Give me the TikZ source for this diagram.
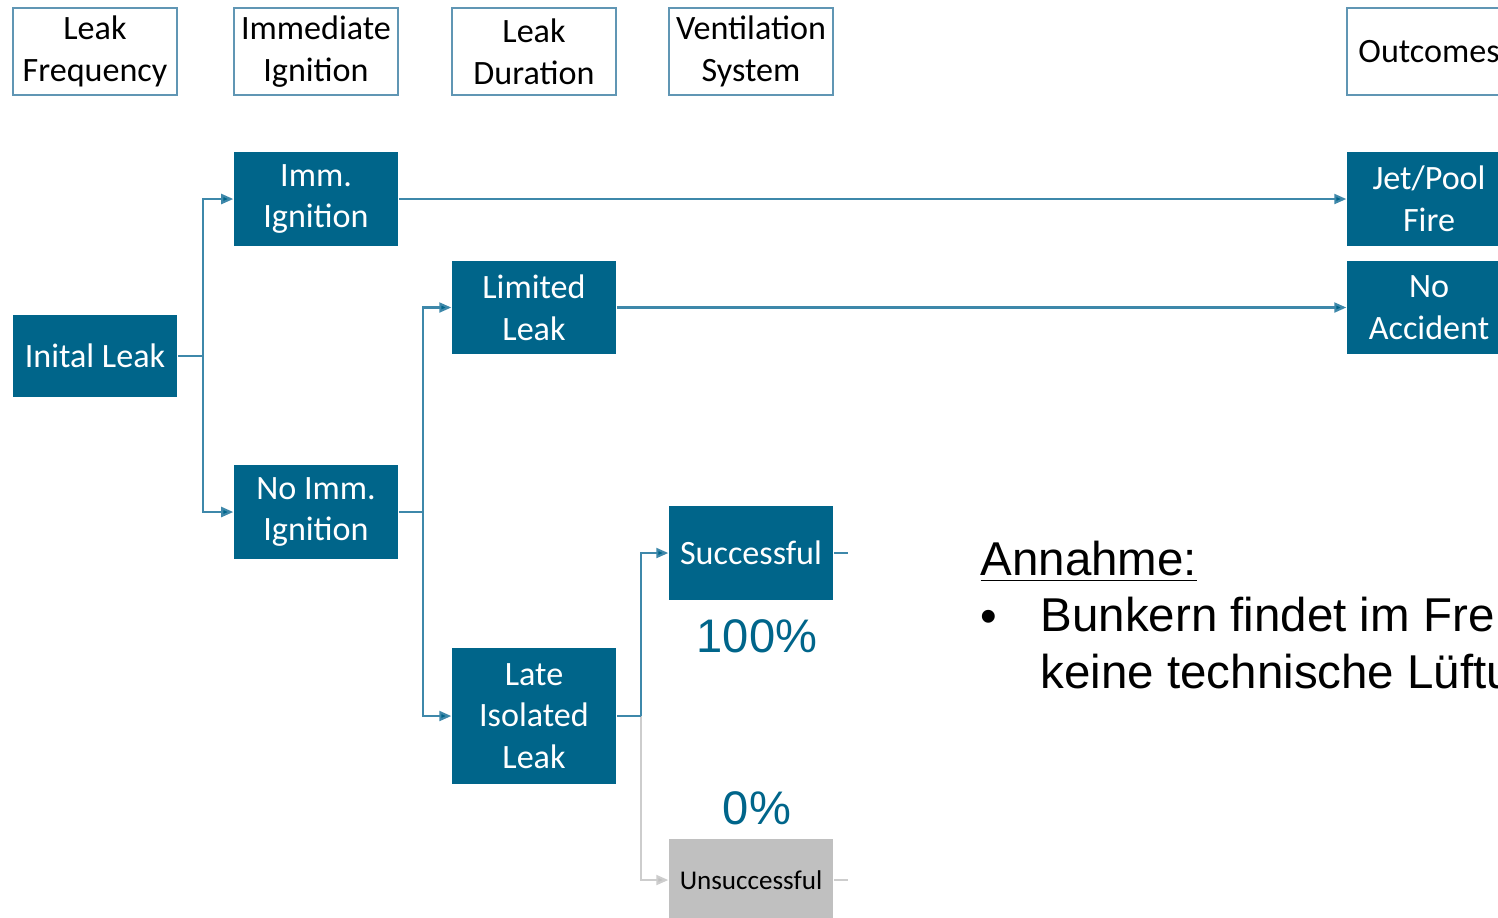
\documentclass[tikz,border=0pt]{standalone}
\usepackage{fontspec}
\setmainfont{Carlito}
\newfontfamily\arialfont{Liberation Sans}
\usetikzlibrary{arrows.meta}
\definecolor{petrol}{RGB}{0,101,138}
\definecolor{linkblue}{RGB}{62,136,170}
\definecolor{headline}{RGB}{96,150,180}
\definecolor{greybox}{RGB}{192,192,192}
\definecolor{greyline}{RGB}{205,205,205}
\begin{document}
\begin{tikzpicture}[x=0.01cm, y=-0.01cm,
    boxtext/.style={font=\fontsize{9.7}{11.9}\selectfont, align=center, inner sep=0pt},
    head/.style={boxtext, draw=headline, line width=0.5pt, minimum width=1.64cm, minimum height=0.87cm},
    event/.style={boxtext, fill=petrol, text=white, minimum width=1.64cm, minimum height=0.93cm},
    link/.style={draw=linkblue, line width=0.6pt},
    arr/.style={link, -{Triangle[length=1.2mm, width=1mm, fill=petrol]}},
    glink/.style={draw=greyline, line width=0.6pt},
    garr/.style={glink, -{Triangle[length=1.2mm, width=1mm, fill=greybox]}},
    pct/.style={font=\arialfont\fontsize{13.4}{16}\selectfont, text=petrol, inner sep=0pt}]
    \useasboundingbox (0,0) rectangle (1498,917);
    \clip (0,0) rectangle (1498,917);
    % Kopfzeile
    \node[head] (hfreq) at (95,51.5) {Leak\\Frequency};
    \node[head] (hign) at (316,51.5) {Immediate\\Ignition};
    \node[head] (hdur) at (534,51.5) {Leak\\Duration};
    \node[head] (hvent) at (751,51.5) {Ventilation\\System};
    \node[head] (hout) at (1429,51.5) {Outcomes};
    % Ereignisse
    \node[event, minimum height=0.82cm] (init) at (95,356) {Inital Leak};
    \node[event] (imm) at (316,199) {Imm.\\Ignition};
    \node[event] (noimm) at (316,512) {No Imm.\\Ignition};
    \node[event] (lim) at (534,307.5) {Limited\\Leak};
    \node[event, minimum height=1.36cm] (late) at (534,716) {Late\\Isolated\\Leak};
    \node[event] (succ) at (751,553) {Successful};
    \node[boxtext, font=\fontsize{7.7}{9.4}\selectfont, fill=greybox, minimum width=1.64cm, minimum height=0.82cm] (unsucc) at (751,880) {Unsuccessful};
    % Ausgang
    \node[event] (fire) at (1429,199) {Jet/Pool\\Fire};
    \node[event] (noacc) at (1429,307.5) {No\\Accident};
    % Verzweigungen
    \coordinate (j1) at (203,356);
    \coordinate (j2) at (423,512);
    \coordinate (j3) at (641,716);
    \coordinate (s1) at (848,553);
    \coordinate (s2) at (848,880);
    \draw[link] (init.east) -- (j1);
    \draw[arr] (j1) |- (imm.west);
    \draw[arr] (j1) |- (noimm.west);
    \draw[arr] (imm.east) -- (fire.west);
    \draw[link] (noimm.east) -- (j2);
    \draw[arr] (j2) |- (lim.west);
    \draw[arr] (j2) |- (late.west);
    \draw[arr] (lim.east) -- (noacc.west);
    \draw[garr] (j3) |- (unsucc.west);
    \draw[link] (late.east) -- (j3);
    \draw[arr] (j3) |- (succ.west);
    \draw[link] (succ.east) -- (s1);
    \draw[glink] (unsucc.east) -- (s2);
    % Wahrscheinlichkeiten
    \node[pct] (p100) at (757,636) {100\%};
    \node[pct] (p0) at (757,808) {0\%};
    % Annahme
    \node[font=\arialfont\fontsize{13.5}{16.2}\selectfont, anchor=base west, inner sep=0pt] (ann) at (980,575) {\underline{Annahme:}};
    \node[font=\arialfont\fontsize{13.5}{16.2}\selectfont, anchor=base west, inner sep=0pt] (bul) at (980,632) {•};
    \node[font=\arialfont\fontsize{13.5}{16.2}\selectfont, anchor=north west, inner sep=0pt, align=left] (note) at (1040,596) {Bunkern findet im Fre\\keine technische Lüftu};
\end{tikzpicture}
\end{document}
